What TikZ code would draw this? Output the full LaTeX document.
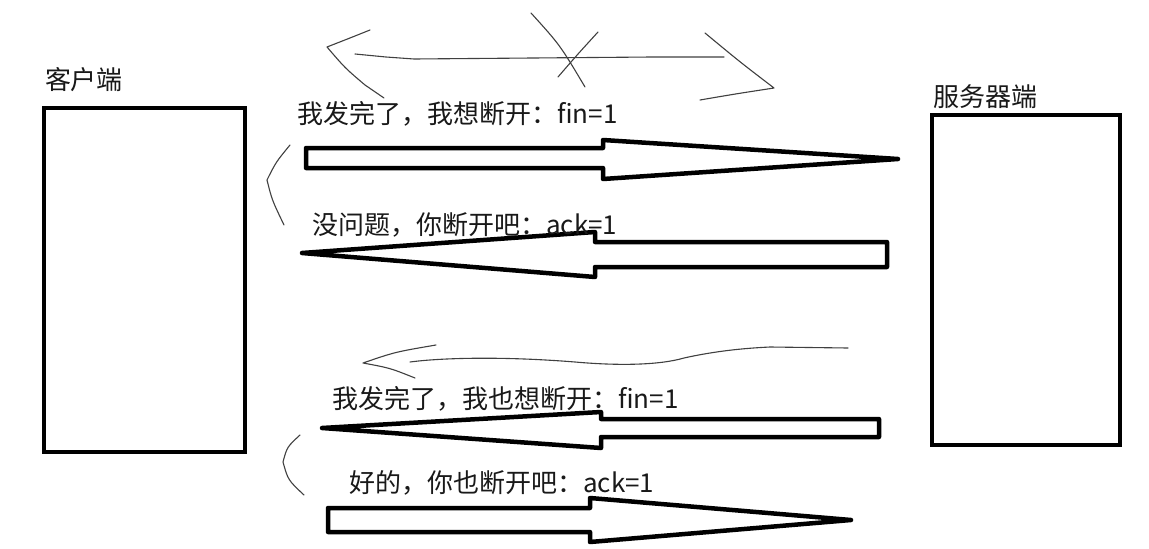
\documentclass[tikz,border=0pt]{standalone}
\usepackage{fontspec}
\setmainfont{Noto Sans CJK SC}
\begin{document}
\begin{tikzpicture}[x=1pt,y=-1pt,
  box/.style={draw=black,line width=4pt,fill=white},
  blockarrow/.style={draw=black,line width=4.5pt,line join=round,fill=white},
  scribble/.style={draw=black!75,line width=1.1pt,line cap=round,line join=round},
  lbl/.style={font=\fontsize{26pt}{30pt}\selectfont,inner sep=0pt,text=black!90}]
\useasboundingbox[fill=white] (0,0) rectangle (1149,549);
% boxes
\node[box,minimum width=201pt,minimum height=344pt,inner sep=0pt] (client) at (144.5,280) {};
\node[box,minimum width=188pt,minimum height=330pt,inner sep=0pt] (server) at (1026,280) {};
\node[lbl] (clientlbl) at (84,80) {客户端};
\node[lbl] (serverlbl) at (985,97) {服务器端};
% block arrows
\draw[blockarrow] (306,148) -- (603,148) -- (603,140) -- (898,159) -- (603,179) -- (603,168) -- (306,168) -- cycle;
\draw[blockarrow] (887,242) -- (595,242) -- (595,232) -- (302,253) -- (595,277) -- (595,267) -- (887,267) -- cycle;
\draw[blockarrow] (879,419) -- (601,419) -- (601,412) -- (322,428) -- (601,448) -- (601,437) -- (879,437) -- cycle;
\draw[blockarrow] (328,508) -- (590,508) -- (590,498) -- (851,520) -- (590,542) -- (590,532) -- (328,532) -- cycle;
% labels
\node[lbl,anchor=west] (m1) at (297,114) {我发完了，我想断开：fin=1};
\node[lbl,anchor=west] (m2) at (312,225) {没问题，你断开吧：ack=1};
\node[lbl,anchor=west] (m3) at (332,399) {我发完了，我也想断开：fin=1};
\node[lbl,anchor=west] (m4) at (349,483) {好的，你也断开吧：ack=1};
% scribbles top
\draw[scribble] (370,30) .. controls (350,38) .. (327,47) .. controls (345,68) .. (365,85) -- (384,98);
\draw[scribble] (355,54) -- (386,57) -- (414,59) -- (652,57) -- (724,57);
\draw[scribble] (705,33) .. controls (740,62) .. (774,88) .. controls (735,94) .. (700,100);
\draw[scribble] (531,13) .. controls (560,45) .. (585,87);
\draw[scribble] (598,32) .. controls (577,55) .. (558,77);
% scribble brackets
\draw[scribble] (290,145) .. controls (276,162) .. (267,180) .. controls (272,200) .. (284,225);
\draw[scribble] (300,435) .. controls (287,447) .. (283,462) .. controls (288,480) .. (304,495);
% scribble middle arrow
\draw[scribble] (436,345) .. controls (395,352) .. (363,363) .. controls (390,368) .. (415,378);
\draw[scribble] (410,362) .. controls (440,358) and (500,356) .. (575,362) .. controls (620,366) and (660,365) .. (684,358) .. controls (720,350) and (750,348) .. (770,347) -- (848,348);
\end{tikzpicture}
\end{document}
